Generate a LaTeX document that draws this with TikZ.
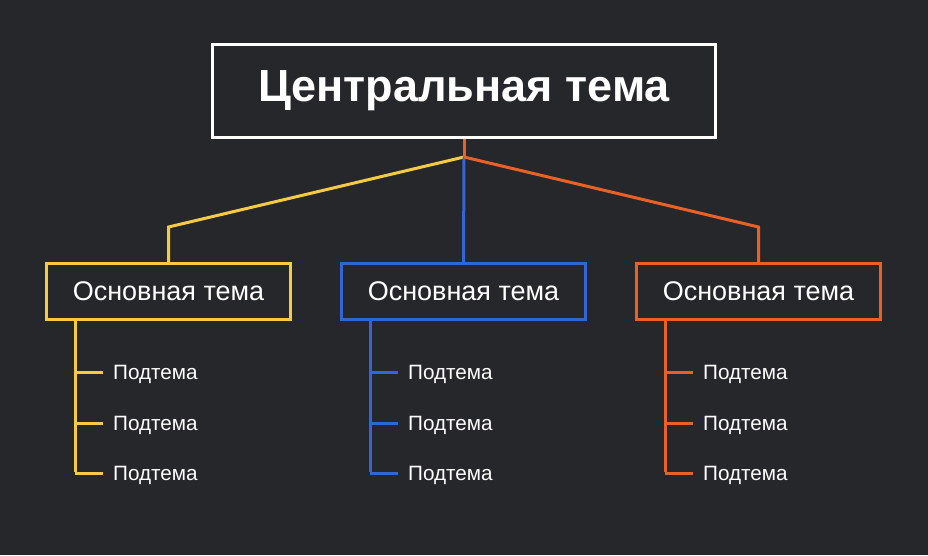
\documentclass[tikz,border=0pt]{standalone}
\usepackage{fontspec}
\setmainfont{Liberation Sans}
\usepackage{tikz}
\definecolor{bgdark}{HTML}{26272B}
\definecolor{topicyellow}{HTML}{F4CB43}
\definecolor{topicblue}{HTML}{3464D6}
\definecolor{topicorange}{HTML}{EA6127}
\tikzset{
  centerbox/.style={draw=white, line width=2.5pt, minimum width=503pt, minimum height=93pt,
    text=white, font=\fontsize{45}{52}\selectfont\bfseries, inner sep=0pt},
  mainbox/.style={draw=#1, line width=2.5pt, minimum width=244pt, minimum height=56pt,
    text=white, font=\fontsize{27}{31}\selectfont, inner sep=0pt},
  subtext/.style={text=white, font=\fontsize{20.7}{24}\selectfont, anchor=base west, inner sep=0pt},
  branch/.style={draw=#1, line width=3pt}
}

\begin{document}
\begin{tikzpicture}[x=1pt,y=-1pt]
\useasboundingbox[fill=bgdark] (0,0) rectangle (928,555);
\node[centerbox] (c) at (464,91) {Центральная тема};
\node[mainbox=topicyellow] (m1) at (168.5,291.5) {Основная тема};
\node[mainbox=topicblue] (m2) at (463.5,291.5) {Основная тема};
\node[mainbox=topicorange] (m3) at (758.5,291.5) {Основная тема};
\coordinate (hub) at (464,157);
\coordinate (k1) at (168.5,227);
\coordinate (k3) at (758.5,227);
\draw[branch=topicyellow] (hub) -- (k1) -- (m1.north);
\draw[branch=topicblue] (hub) -- (m2.north);
\draw[branch=topicorange] (hub) -- (k3) -- (m3.north);
\draw[branch=topicorange] (c.south) -- (hub);
\foreach \m/\col/\xs in {m1/topicyellow/75, m2/topicblue/370, m3/topicorange/665}
{
  \coordinate (\m-top) at (\xs,320);
  \foreach \i/\ys in {1/372, 2/423, 3/473}
  {
    \coordinate (\m-j\i) at (\xs,\ys);
    \node[subtext] (\m-s\i) at (\xs+38,\ys+7.5) {Подтема};
    \draw[branch=\col] (\m-j\i) -- ++(28,0);
  }
  \draw[branch=\col] (\m-top) -- ([yshift=1.5pt]\m-j3);
}
\end{tikzpicture}
\end{document}
